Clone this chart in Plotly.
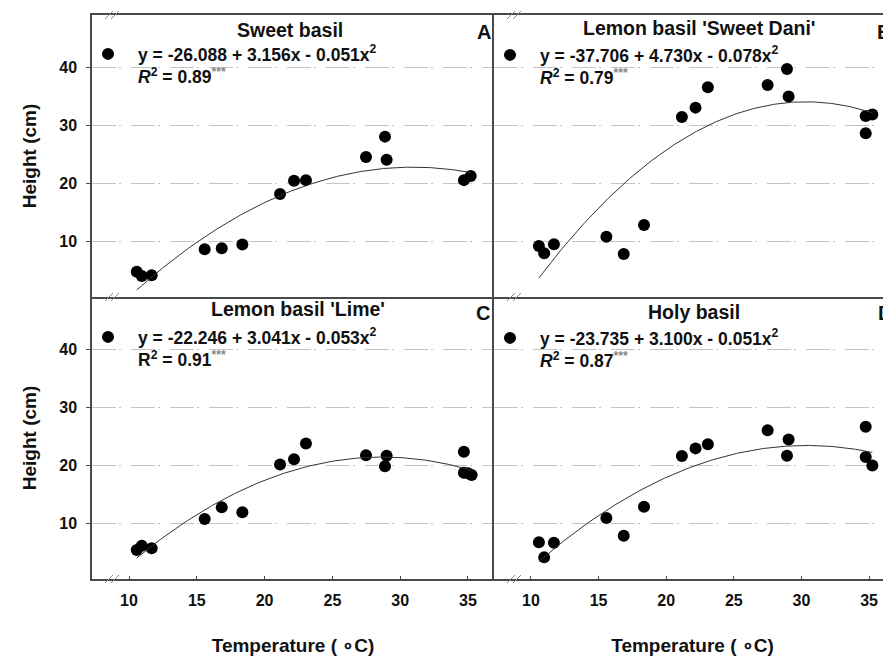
import numpy as np
import plotly.graph_objects as go

# ---------------- data ----------------
titles = ["Sweet basil", "Lemon basil 'Sweet Dani'", "Lemon basil 'Lime'", "Holy basil"]
letters = ["A", "B", "C", "D"]

temp_a = [10.57, 10.94, 11.67, 15.58, 16.84, 18.36, 21.14, 22.17, 23.05, 27.48, 28.88, 29.0, 34.7, 35.2]
height_a = [4.7, 3.97, 4.1, 8.6, 8.74, 9.4, 18.1, 20.4, 20.5, 24.5, 28.0, 24.0, 20.5, 21.2]

temp_b = [10.59, 10.98, 11.7, 15.58, 16.86, 18.36, 21.16, 22.17, 23.08, 27.5, 28.93, 29.05, 34.75, 35.24, 34.75]
height_b = [9.14, 7.9, 9.43, 10.75, 7.76, 12.76, 31.4, 33.0, 36.5, 36.9, 39.66, 34.9, 31.55, 31.8, 28.6]

temp_c = [10.57, 10.94, 11.67, 15.58, 16.84, 18.36, 21.14, 22.17, 23.05, 27.48, 29.0, 28.88, 34.7, 34.7, 35.0, 35.27]
height_c = [5.34, 6.09, 5.64, 10.69, 12.7, 11.84, 20.1, 21.0, 23.7, 21.7, 21.6, 19.8, 22.3, 18.67, 18.57, 18.3]

temp_d = [10.59, 10.98, 11.7, 15.58, 16.86, 18.36, 21.16, 22.17, 23.08, 27.5, 29.05, 28.93, 34.75, 34.75, 35.24]
height_d = [6.67, 4.08, 6.6, 10.86, 7.8, 12.8, 21.55, 22.87, 23.6, 26.0, 24.4, 21.6, 26.6, 21.4, 19.9]

# quadratic fits: y = b0 + b1*x + b2*x^2
b0 = [-26.088, -37.706, -22.246, -23.735]
b1 = [3.156, 4.730, 3.041, 3.100]
b2 = [-0.051, -0.078, -0.053, -0.051]
r2 = ["0.89", "0.79", "0.91", "0.87"]
r_italic = [True, True, False, True]

x_ticks = [10, 15, 20, 25, 30, 35]
y_ticks = [10, 20, 30, 40]

temps = [temp_a, temp_b, temp_c, temp_d]
heights = [height_a, height_b, height_c, height_d]

# ---------------- layout helpers ----------------
# page body has an 8px margin: figure is drawn 8px in from the window's corner
OFF = 8
W, H = 891 - OFF, 656 - OFF
FONT = "Liberation Sans, Arial, sans-serif"
LINE = "#4a4a4a"

def px(x):
    return (x - OFF) / W

def py(y):
    return 1 - (y - OFF) / H

x_left = [92, 494]
x_right = [494, 891]
y_top = [15, 297]
y_bot = [297, 579]
xranges = [[7.27, 36.92], [7.27, 36.62]]
yrange = [0.35, 48.97]
legend_dy = [21, 22, 22, 23]

fig = go.Figure()

for i in range(4):
    ax = "" if i == 0 else str(i + 1)
    xs = temps[i]
    ys = heights[i]
    rtxt = "<i>R</i>" if r_italic[i] else "R"
    name = (f"y = {b0[i]:.3f} + {b1[i]:.3f}x - {abs(b2[i]):.3f}x<sup>2</sup><br>"
            f"{rtxt}<sup>2</sup> = {r2[i]}<sup><span style='color:#888'>***</span></sup>")
    lg = "legend" if i == 0 else f"legend{i + 1}"
    fig.add_trace(go.Scatter(
        x=xs, y=ys, mode="markers", name=name,
        marker=dict(color="black", size=12),
        xaxis="x" + ax, yaxis="y" + ax, legend=lg, showlegend=True,
    ))
    xf = np.linspace(min(xs), max(xs), 200)
    yf = b0[i] + b1[i] * xf + b2[i] * xf ** 2
    fig.add_trace(go.Scatter(
        x=xf, y=yf, mode="lines", line=dict(color="#333333", width=1),
        xaxis="x" + ax, yaxis="y" + ax, showlegend=False, hoverinfo="skip",
    ))

layout = dict(
    width=W, height=H,
    margin=dict(l=0, r=0, t=0, b=0),
    paper_bgcolor="white", plot_bgcolor="white",
    font=dict(family=FONT, color="#111111"),
    showlegend=True,
)

for i in range(4):
    col = i % 2
    row = i // 2
    ax = "" if i == 0 else str(i + 1)
    xd = x_left if col == 0 else x_right
    yd = y_top if row == 0 else y_bot
    bottom = row == 1
    layout["xaxis" + ax] = dict(
        domain=[px(xd[0]), min(1.0, px(xd[1]))], range=xranges[col], anchor="y" + ax,
        showgrid=False, zeroline=False, showline=True, linecolor=LINE, linewidth=1.5,
        mirror=(not bottom), tickvals=x_ticks, showticklabels=bottom,
        ticks="inside" if bottom else "", ticklen=3, tickcolor=LINE,
        tickfont=dict(size=16, family=FONT, color="#111", weight="bold"),
        ticklabelstandoff=6, automargin=False,
        title=dict(text="<b>Temperature ( \u2218C)</b>" if bottom else "",
                   font=dict(size=19, family=FONT, color="#111"), standoff=32),
    )
    layout["yaxis" + ax] = dict(
        domain=[py(yd[1]), py(yd[0])], range=yrange, anchor="x" + ax,
        showgrid=True, gridcolor="#c4c4c4", gridwidth=1, griddash="24px,3px,2px,10px",
        zeroline=False, showline=True, linecolor=LINE, linewidth=1.5,
        mirror=False, tickvals=y_ticks, showticklabels=(col == 0),
        ticks="outside" if col == 0 else "", ticklen=4, tickcolor=LINE,
        tickfont=dict(size=16, family=FONT, color="#111", weight="bold"),
        ticklabelstandoff=6, automargin=False,
        title=dict(text="<b>Height (cm)</b>" if col == 0 else "",
                   font=dict(size=19, family=FONT, color="#111"), standoff=18),
    )
    lg = "legend" if i == 0 else f"legend{i + 1}"
    lx = xd[0] + 16 - 30
    ly = yd[0] + legend_dy[i]
    layout[lg] = dict(
        x=px(lx), y=py(ly), xanchor="left", yanchor="top",
        bgcolor="rgba(0,0,0,0)", borderwidth=0, valign="top",
        font=dict(size=17.5, family=FONT, color="#111", weight="bold"),
        itemwidth=50, tracegroupgap=0,
    )

fig.update_layout(**layout)

# panel titles and letters
title_pos = [(290, 30), (699, 28), (298, 309), (694, 312)]
letter_pos = [(484, 32), (884, 32), (483, 313), (885, 313)]
for i in range(4):
    fig.add_annotation(x=px(title_pos[i][0]), y=py(title_pos[i][1]), xref="paper", yref="paper",
                       text=f"<b>{titles[i]}</b>", showarrow=False, xanchor="center", yanchor="middle",
                       font=dict(size=19.5, family=FONT, color="#111"))
    fig.add_annotation(x=px(letter_pos[i][0]), y=py(letter_pos[i][1]), xref="paper", yref="paper",
                       text=f"<b>{letters[i]}</b>", showarrow=False, xanchor="center", yanchor="middle",
                       font=dict(size=20, family=FONT, color="#111"))

# axis-break marks "//"
for bx in (112, 514):
    for by in (15, 297, 579):
        for off in (-3, 3):
            fig.add_shape(type="line", xref="paper", yref="paper",
                          x0=px(bx + off - 4), y0=py(by + 4), x1=px(bx + off + 4), y1=py(by - 4),
                          line=dict(color="#8a8a8a", width=1))

fig.write_html("out.html")
